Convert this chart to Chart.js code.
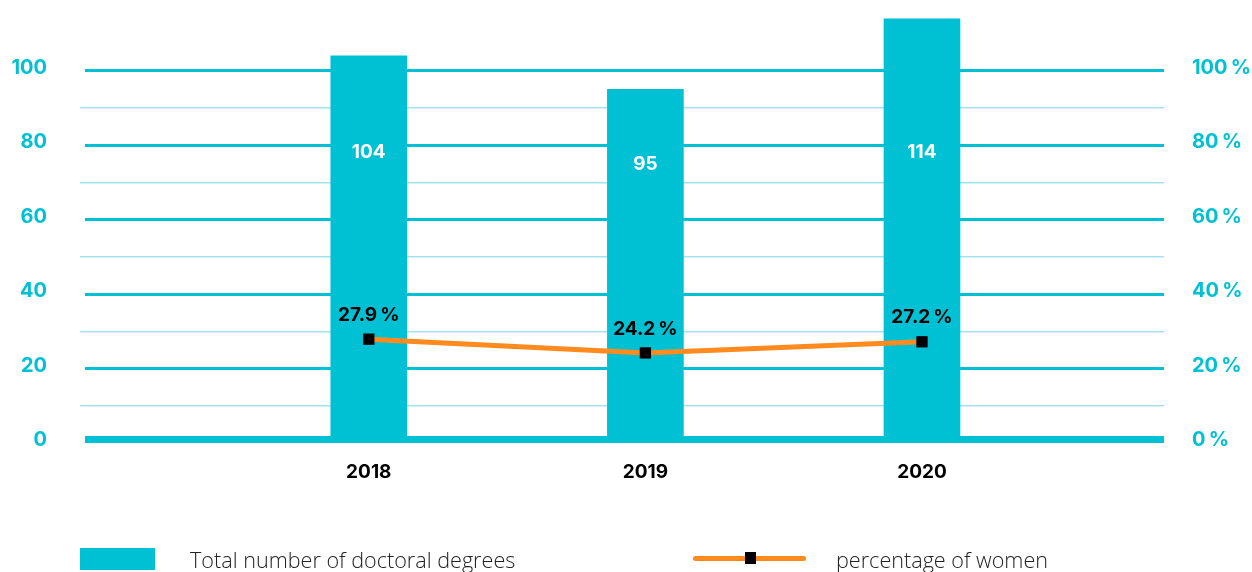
<!DOCTYPE html>
<html>
<head>
<meta charset="utf-8">
<script src="https://cdn.jsdelivr.net/npm/chart.js@4/dist/chart.umd.min.js"></script>
<style>
  html, body { margin: 0; padding: 0; background: #fff; }
  #wrap { position: relative; width: 1252px; height: 572px; overflow: hidden; }
  #chart { position: absolute; left: 0; top: 0; }
  .legend-box { position: absolute; left: 80px; top: 548px; width: 75px; height: 22px; background: #00c1d4; }
  .legend-line { position: absolute; left: 693px; top: 556px; width: 113px; height: 5px; background: #ff8a1e; border-radius: 3px; }
  .legend-dot { position: absolute; left: 745px; top: 552px; width: 11px; height: 12px; background: #000; }
  .legend-text { position: absolute; top: 546px; font-family: "Open Sans", sans-serif; font-weight: 300; font-size: 21.6px; line-height: 28px; color: #222; }
</style>
</head>
<body>
<div id="wrap">
  <canvas id="chart" width="1252" height="572"></canvas>
  <div class="legend-box"></div>
  <div class="legend-text" style="left:190px">Total number of doctoral degrees</div>
  <div class="legend-line"></div>
  <div class="legend-dot"></div>
  <div class="legend-text" style="left:836px">percentage of women</div>
</div>
<script>
const years = [2018, 2019, 2020];
const doctoralDegrees = [104, 95, 114];
const womenShare = [27.9, 24.2, 27.2];
const leftTicks = [0, 20, 40, 60, 80, 100];

const TEAL = '#00c1d4';
const TEAL_LIGHT = '#a3e4ec';
const ORANGE = '#ff8a1e';
const NUM_FONT = 'Inter, "Open Sans", sans-serif';

// thick base line plus the value labels
const labelsPlugin = {
  id: 'labels',
  beforeDatasetsDraw(chart) {
    const { ctx, chartArea } = chart;
    const y0 = chart.scales.y.getPixelForValue(0);
    ctx.save();
    ctx.fillStyle = TEAL;
    ctx.fillRect(chartArea.left, y0 - 7, chartArea.right - chartArea.left, 7);
    ctx.restore();
  },
  afterDatasetsDraw(chart) {
    const { ctx } = chart;
    const yScale = chart.scales.y;
    ctx.save();
    ctx.textAlign = 'center';
    ctx.textBaseline = 'middle';
    ctx.font = 'bold 19px ' + NUM_FONT;

    ctx.fillStyle = '#fff';
    chart.getDatasetMeta(0).data.forEach((bar, i) => {
      const v = doctoralDegrees[i];
      ctx.fillText(String(v), bar.x, yScale.getPixelForValue(Math.min(78, v - 20)));
    });

    ctx.fillStyle = '#000';
    chart.getDatasetMeta(1).data.forEach((pt, i) => {
      ctx.fillText(womenShare[i].toFixed(1) + '\u2009%', pt.x, pt.y - 24);
    });
    ctx.restore();
  }
};

// the big tick paddings must not shrink the plot area
const noEdgePadding = s => {
  s.paddingTop = 0;
  s.paddingBottom = 0;
  s.paddingLeft = 0;
  s.paddingRight = 0;
};

new Chart(document.getElementById('chart'), {
  data: {
    datasets: [
      {
        type: 'bar',
        label: 'Total number of doctoral degrees',
        data: years.map((yr, i) => ({ x: yr, y: doctoralDegrees[i] })),
        backgroundColor: TEAL,
        barThickness: 76,
        yAxisID: 'y',
        order: 2
      },
      {
        type: 'line',
        label: 'percentage of women',
        data: years.map((yr, i) => ({ x: yr, y: womenShare[i] })),
        borderColor: ORANGE,
        borderWidth: 5,
        pointStyle: 'rect',
        pointRadius: 8,
        pointBackgroundColor: '#000',
        pointBorderWidth: 0,
        yAxisID: 'y1',
        order: 1
      }
    ]
  },
  options: {
    responsive: false,
    animation: false,
    layout: { autoPadding: false, padding: { top: 15, bottom: 84, left: 0, right: 0 } },
    plugins: {
      legend: { display: false },
      tooltip: { enabled: false }
    },
    scales: {
      x: {
        type: 'linear',
        bounds: 'data',
        offset: false,
        min: 2016.974,
        max: 2020.875,
        grid: { display: false, drawTicks: false },
        border: { display: false },
        afterBuildTicks: s => { s.ticks = years.map(v => ({ value: v })); },
        ticks: {
          padding: 18,
          color: '#000',
          font: { family: NUM_FONT, size: 19, weight: 'bold' },
          callback: v => String(v)
        },
        afterFit: s => { s.height = 45; noEdgePadding(s); }
      },
      y: {
        position: 'left',
        bounds: 'data',
        min: 0,
        max: 115,
        border: { display: false },
        afterBuildTicks: s => {
          s.ticks = [];
          for (let v = 0; v <= 100; v += 10) s.ticks.push({ value: v });
        },
        grid: {
          color: c => c.tick.value === 0 ? 'rgba(0,0,0,0)' : (c.tick.value % 20 === 0 ? TEAL : TEAL_LIGHT),
          lineWidth: c => c.tick.value % 20 === 0 ? 3 : 1.5,
          drawTicks: true,
          tickLength: 5,
          tickColor: c => c.tick.value % 20 === 0 ? 'rgba(0,0,0,0)' : TEAL_LIGHT
        },
        ticks: {
          padding: 33,
          labelOffset: -3,
          color: TEAL,
          font: { family: NUM_FONT, size: 20, weight: 'bold' },
          callback: v => leftTicks.includes(v) ? String(v) : ''
        },
        afterFit: s => { s.width = 85; noEdgePadding(s); }
      },
      y1: {
        position: 'right',
        bounds: 'data',
        min: 0,
        max: 115,
        border: { display: false },
        afterBuildTicks: s => { s.ticks = leftTicks.map(v => ({ value: v })); },
        grid: { drawOnChartArea: false, drawTicks: false },
        ticks: {
          padding: 28,
          labelOffset: -3,
          color: TEAL,
          font: { family: NUM_FONT, size: 20, weight: 'bold' },
          callback: v => v + '\u2009%'
        },
        afterFit: s => { s.width = 88; noEdgePadding(s); }
      }
    }
  },
  plugins: [labelsPlugin]
});
</script>
</body>
</html>
